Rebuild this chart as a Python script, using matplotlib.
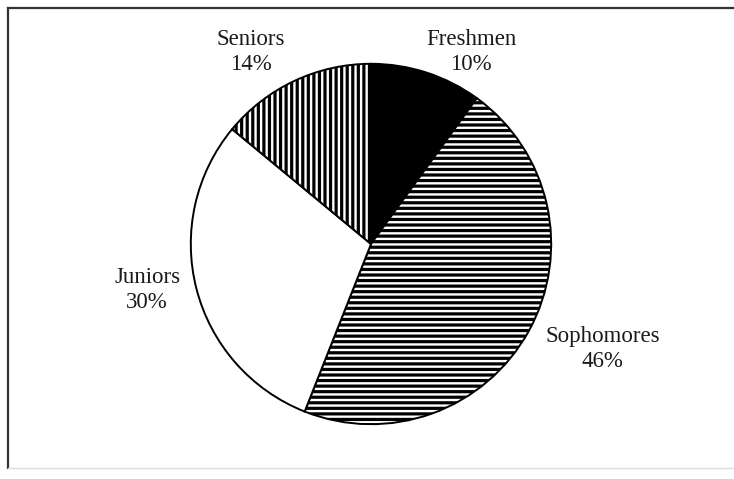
import matplotlib
matplotlib.use("Agg")
import matplotlib.pyplot as plt
from matplotlib.lines import Line2D

categories = ["Freshmen", "Sophomores", "Juniors", "Seniors"]
percentages = [10, 46, 30, 14]

colors = ["black", "white", "white", "white"]
hatches = [None, "---", None, "|||"]
label_xy = [(0.555, 1.066), (1.286, -0.582), (-1.242, -0.258), (-0.665, 1.066)]

plt.rcParams["hatch.linewidth"] = 2.3
plt.rcParams["font.family"] = ["Liberation Serif", "DejaVu Serif"]

W, H = 734, 479
fig = plt.figure(figsize=(W / 100, H / 100), dpi=100)
fig.patch.set_facecolor("white")

cx, cy, r = 371, 244, 182
ax = fig.add_axes([(cx - r) / W, (H - cy - r) / H, 2 * r / W, 2 * r / H])
wedges, _ = ax.pie(percentages, startangle=90, counterclock=False, colors=colors,
                   radius=1.0, wedgeprops=dict(edgecolor="black", linewidth=1.4))
for w, h in zip(wedges, hatches):
    if h:
        w.set_hatch(h)
ax.set_xlim(-1.01, 1.01)
ax.set_ylim(-1.01, 1.01)
ax.axis("off")

for name, pct, (x, y) in zip(categories, percentages, label_xy):
    ax.text(x, y, f"{name}\n{pct}%", ha="center", va="center", fontsize=16.5,
            color="#1a1a1a", linespacing=1.25, clip_on=False)

# frame
fig.add_artist(Line2D([8 / W, 1.0], [1 - 8 / H, 1 - 8 / H], transform=fig.transFigure,
                      color="#333333", linewidth=1.6))
fig.add_artist(Line2D([8 / W, 8 / W], [1 - 8 / H, 1 - 468 / H], transform=fig.transFigure,
                      color="#333333", linewidth=1.6))
fig.add_artist(Line2D([8 / W, 1.0], [1 - 468 / H, 1 - 468 / H], transform=fig.transFigure,
                      color="#dddddd", linewidth=1.0))

fig.savefig("out.png", dpi=100)
